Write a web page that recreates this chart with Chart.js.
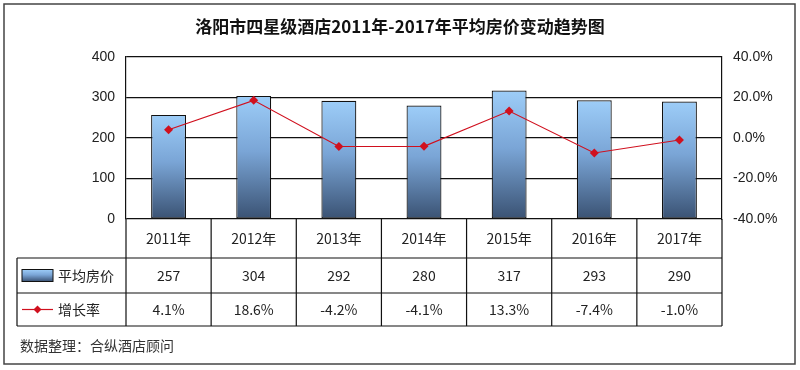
<!DOCTYPE html>
<html>
<head>
<meta charset="utf-8">
<script src="https://cdn.jsdelivr.net/npm/chart.js@4.4.0/dist/chart.umd.min.js"></script>
<style>
  html, body { margin: 0; padding: 0; background: #fff; }
  #box { width: 800px; height: 370px; }
</style>
</head>
<body>
<div id="box"><canvas id="myChart" width="800" height="370"></canvas></div>
<script>
const years = ["2011年","2012年","2013年","2014年","2015年","2016年","2017年"];
const avgPrice = [257, 304, 292, 280, 317, 293, 290];
const growth = [4.1, 18.6, -4.2, -4.1, 13.3, -7.4, -1.0];
const growthText = ["4.1%","18.6%","-4.2%","-4.1%","13.3%","-7.4%","-1.0%"];
const title = "洛阳市四星级酒店2011年-2017年平均房价变动趋势图";
const source = "数据整理：合纵酒店顾问";

const cjk = "'Noto Sans CJK SC', 'Noto Sans', sans-serif";
const arial = "'Liberation Sans', Arial, sans-serif";
const ctx = document.getElementById('myChart');

function barGradient(c, top, bottom) {
  const g = c.createLinearGradient(0, top, 0, bottom);
  g.addColorStop(0, '#9dcdf8');
  g.addColorStop(0.45, '#7aa5d6');
  g.addColorStop(1, '#3a5273');
  return g;
}

// draws title, frame, data table and footer
const tablePlugin = {
  id: 'tablePlugin',
  afterDraw(chart) {
    const c = chart.ctx;
    const area = chart.chartArea;
    const x = chart.scales.x;
    const n = years.length;
    const colW = (area.right - area.left) / n;
    const r0 = area.bottom, r1 = 258, r2 = 293, r3 = 326;
    const left = 17;
    c.save();
    // outer frame
    c.strokeStyle = '#444';
    c.lineWidth = 1.5;
    c.strokeRect(4, 4, 791, 360);
    // title
    c.fillStyle = '#111';
    c.font = "bold 17px " + cjk;
    c.textAlign = 'center';
    c.textBaseline = 'middle';
    c.fillText(title, 400, 27);
    // table lines
    c.strokeStyle = '#111';
    c.lineWidth = 1.2;
    c.beginPath();
    c.moveTo(area.left, r0); c.lineTo(area.left, r3);
    c.moveTo(left, r1); c.lineTo(area.right, r1);
    c.moveTo(left, r2); c.lineTo(area.right, r2);
    c.moveTo(left, r3); c.lineTo(area.right, r3);
    c.moveTo(left, r1); c.lineTo(left, r3);
    for (let i = 1; i <= n; i++) {
      const xx = area.left + colW * i;
      c.moveTo(xx, r0); c.lineTo(xx, r3);
    }
    c.stroke();
    // cells
    c.font = "14px " + cjk;
    c.fillStyle = '#222';
    for (let i = 0; i < n; i++) {
      const cx = x.getPixelForValue(i);
      c.fillText(years[i], cx, (r0 + r1) / 2);
      c.fillText(String(avgPrice[i]), cx, (r1 + r2) / 2);
      c.fillText(growthText[i], cx, (r2 + r3) / 2);
    }
    // legend keys
    const ky = (r1 + r2) / 2;
    c.fillStyle = barGradient(c, ky - 6, ky + 6);
    c.fillRect(22, ky - 6, 31, 12);
    c.strokeStyle = '#111';
    c.lineWidth = 1;
    c.strokeRect(22, ky - 6, 31, 12);
    const ly = (r2 + r3) / 2;
    c.strokeStyle = '#d0101e';
    c.lineWidth = 1.2;
    c.beginPath(); c.moveTo(22, ly); c.lineTo(53, ly); c.stroke();
    c.fillStyle = '#d0101e';
    c.beginPath();
    c.moveTo(37.5, ly - 4); c.lineTo(41.5, ly); c.lineTo(37.5, ly + 4); c.lineTo(33.5, ly);
    c.closePath(); c.fill();
    c.fillStyle = '#222';
    c.textAlign = 'left';
    c.fillText("平均房价", 58, ky);
    c.fillText("增长率", 58, ly);
    // footer
    c.fillStyle = '#333';
    c.fillText(source, 20, 346);
    c.restore();
  }
};

new Chart(ctx, {
  type: 'bar',
  data: {
    labels: years,
    datasets: [{
      type: 'line',
      label: '增长率',
      data: growth,
      yAxisID: 'y1',
      borderColor: '#d0101e',
      backgroundColor: '#d0101e',
      borderWidth: 1.2,
      pointStyle: 'rectRot',
      pointRadius: 4.5,
      pointBorderWidth: 0,
      tension: 0,
      order: 0
    }, {
      label: '平均房价',
      data: avgPrice,
      yAxisID: 'y',
      borderColor: '#111',
      borderWidth: 1.2,
      borderSkipped: false,
      categoryPercentage: 1,
      barPercentage: 0.41,
      order: 1,
      backgroundColor(context) {
        const chart = context.chart;
        if (!chart.chartArea) return '#7aa5d6';
        const ys = chart.scales.y;
        const v = context.raw || 0;
        return barGradient(chart.ctx, ys.getPixelForValue(v), ys.getPixelForValue(0));
      }
    }]
  },
  options: {
    responsive: false,
    animation: false,
    layout: { padding: { top: 57, bottom: 151, left: 0, right: 0 } },
    plugins: {
      legend: { display: false },
      title: { display: false },
      tooltip: { enabled: false }
    },
    scales: {
      x: {
        display: false,
        offset: true
      },
      y: {
        position: 'left',
        min: 0, max: 400,
        ticks: { stepSize: 100, color: '#222', padding: 11, font: { size: 14, family: arial } },
        grid: { color: '#111', lineWidth: 1.2, drawTicks: false },
        border: { color: '#111', width: 1.2 },
        afterFit(scale) { scale.width = 126; }
      },
      y1: {
        position: 'right',
        min: -40, max: 40,
        ticks: {
          stepSize: 20, color: '#222', padding: 11, font: { size: 14, family: arial },
          callback: v => v.toFixed(1) + '%'
        },
        grid: { drawOnChartArea: false, drawTicks: false },
        border: { color: '#111', width: 1.2 },
        afterFit(scale) { scale.width = 78; }
      }
    }
  },
  plugins: [tablePlugin]
});
</script>
</body>
</html>
